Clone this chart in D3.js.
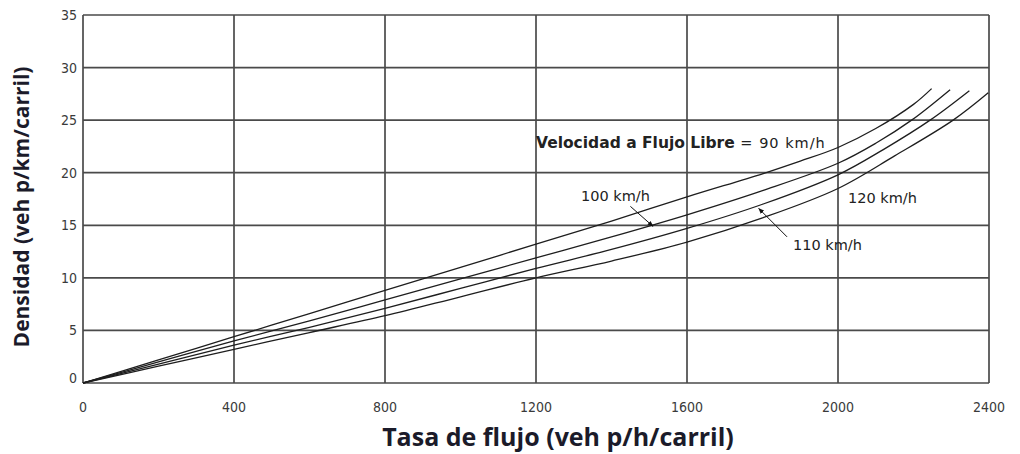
<!DOCTYPE html>
<html lang="es">
<head>
<meta charset="UTF-8">
<title>Densidad vs Tasa de flujo</title>
<script src="https://d3js.org/d3.v7.min.js"></script>
<style>
    body { margin: 0; background: #fff; }
    .tick-label { font-family: "DejaVu Sans Condensed", "DejaVu Sans", sans-serif; font-size: 14px; fill: #3a3a3a; }
    .axis-title { font-family: "Open Sans", "DejaVu Sans", sans-serif; font-weight: bold; fill: #1b1b2a; }
    .note { font-family: "DejaVu Sans", sans-serif; font-size: 14.5px; fill: #222; }
</style>
</head>
<body>
<div id="chart"></div>
<script>
    // flow points (veh p/h/carril) and density for each free-flow speed
    const speeds = ["90", "100", "110", "120"];
    const flows90 = [0, 200, 400, 600, 800, 1000, 1200, 1400, 1600, 1800, 1900, 2000, 2100, 2200, 2248];
    const dens90 = [0, 2.2, 4.4, 6.6, 8.8, 11.0, 13.2, 15.4, 17.7, 19.9, 21.1, 22.4, 24.2, 26.5, 28.0];
    const flows100 = [0, 200, 400, 600, 800, 1000, 1200, 1400, 1600, 1800, 2000, 2100, 2195, 2297];
    const dens100 = [0, 2.0, 4.0, 5.9, 7.9, 9.9, 11.9, 13.9, 16.0, 18.3, 20.9, 22.8, 25.0, 27.9];
    const flows110 = [0, 200, 400, 600, 800, 1000, 1200, 1400, 1600, 1800, 2000, 2120, 2244, 2348];
    const dens110 = [0, 1.8, 3.6, 5.3, 7.1, 9.0, 10.9, 12.7, 14.7, 17.0, 19.8, 22.2, 25.0, 27.8];
    const flows120 = [0, 200, 400, 600, 800, 1000, 1200, 1400, 1600, 1800, 2000, 2150, 2305, 2398];
    const dens120 = [0, 1.6, 3.2, 4.8, 6.4, 8.2, 10.0, 11.6, 13.4, 15.7, 18.5, 21.6, 25.0, 27.6];

    const xTicks = [0, 400, 800, 1200, 1600, 2000, 2400];
    const yTicks = [0, 5, 10, 15, 20, 25, 30, 35];

    const series = [
        { speed: speeds[0], flows: flows90, dens: dens90 },
        { speed: speeds[1], flows: flows100, dens: dens100 },
        { speed: speeds[2], flows: flows110, dens: dens110 },
        { speed: speeds[3], flows: flows120, dens: dens120 }
    ];

    const width = 1020;
    const height = 454;
    const margin = { top: 15, right: 31, bottom: 71, left: 83 };
    const innerWidth = width - margin.left - margin.right;
    const innerHeight = height - margin.top - margin.bottom;

    const svg = d3.select("#chart").append("svg")
        .attr("width", width)
        .attr("height", height)
        .style("display", "block");

    const g = svg.append("g")
        .attr("transform", `translate(${margin.left},${margin.top})`);

    const x = d3.scaleLinear().domain([0, 2400]).range([0, innerWidth]);
    const y = d3.scaleLinear().domain([0, 35]).range([innerHeight, 0]);

    // grid
    g.selectAll(".vgrid").data(xTicks).join("line")
        .attr("x1", d => x(d)).attr("x2", d => x(d))
        .attr("y1", 0).attr("y2", innerHeight)
        .attr("stroke", "#4a4a4a").attr("stroke-width", 1.7);

    g.selectAll(".hgrid").data(yTicks).join("line")
        .attr("x1", 0).attr("x2", innerWidth)
        .attr("y1", d => y(d)).attr("y2", d => y(d))
        .attr("stroke", "#4a4a4a").attr("stroke-width", 1.7);

    // tick labels
    g.selectAll(".xlab").data(xTicks).join("text")
        .attr("class", "tick-label")
        .attr("x", d => x(d)).attr("y", innerHeight + 29)
        .attr("text-anchor", "middle")
        .text(d => d);

    g.selectAll(".ylab").data(yTicks).join("text")
        .attr("class", "tick-label")
        .attr("x", -6).attr("y", d => y(d) + (d === 0 ? 0 : 5))
        .attr("text-anchor", "end")
        .text(d => d);

    // axis titles
    svg.append("text")
        .attr("class", "axis-title")
        .attr("x", 558).attr("y", 446)
        .attr("text-anchor", "middle")
        .style("font-size", "25px")
        .text("Tasa de flujo (veh p/h/carril)");

    svg.append("text")
        .attr("class", "axis-title")
        .attr("transform", "translate(29,207) rotate(-90)")
        .attr("text-anchor", "middle")
        .style("font-size", "21px")
        .text("Densidad (veh p/km/carril)");

    // curves
    const line = d3.line()
        .x(d => x(d[0]))
        .y(d => y(d[1]))
        .curve(d3.curveCatmullRom.alpha(0.5));

    g.selectAll(".curve").data(series).join("path")
        .attr("d", s => line(s.flows.map((f, i) => [f, s.dens[i]])))
        .attr("fill", "none")
        .attr("stroke", "#1e1e1e")
        .attr("stroke-width", 1.3);

    // annotations
    svg.append("defs").append("marker")
        .attr("id", "arr")
        .attr("viewBox", "0 0 10 10")
        .attr("refX", 9).attr("refY", 5)
        .attr("markerWidth", 6).attr("markerHeight", 6)
        .attr("orient", "auto")
        .append("path").attr("d", "M0,1L10,5L0,9Z").attr("fill", "#111");

    const t90 = svg.append("text").attr("class", "note")
        .attr("x", 536).attr("y", 148);
    t90.append("tspan").attr("font-weight", "bold").style("font-size", "15.5px").text("Velocidad a Flujo Libre");
    t90.append("tspan").style("letter-spacing", "1px").text(" = " + speeds[0] + " km/h");

    svg.append("text").attr("class", "note")
        .attr("x", 581).attr("y", 201).text(speeds[1] + " km/h");
    svg.append("text").attr("class", "note")
        .attr("x", 848).attr("y", 203).text(speeds[3] + " km/h");
    svg.append("text").attr("class", "note")
        .attr("x", 793).attr("y", 250).text(speeds[2] + " km/h");

    // leader arrows from labels to their curves
    const arrows = [
        { from: [1450, 16.8], to: [1510, 14.9] },
        { from: [1865, 13.9], to: [1790, 16.6] }
    ];
    g.selectAll(".leader").data(arrows).join("line")
        .attr("x1", d => x(d.from[0])).attr("y1", d => y(d.from[1]))
        .attr("x2", d => x(d.to[0])).attr("y2", d => y(d.to[1]))
        .attr("stroke", "#111").attr("stroke-width", 1)
        .attr("marker-end", "url(#arr)");
</script>
</body>
</html>
